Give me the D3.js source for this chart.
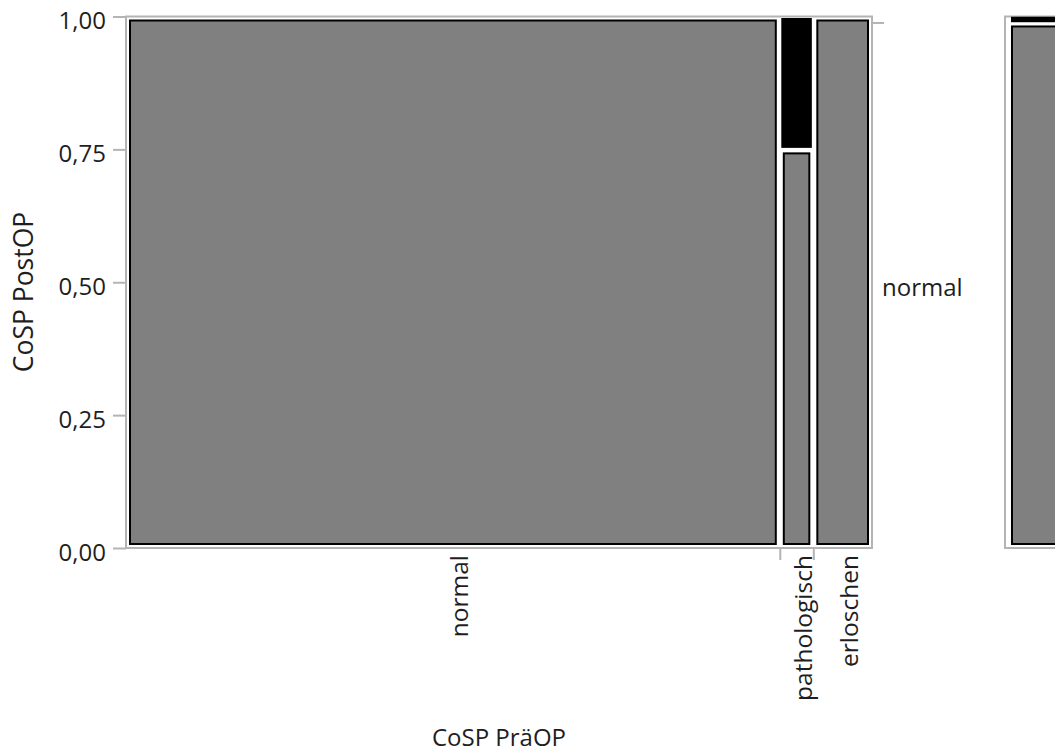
<!DOCTYPE html>
<html>
<head>
<meta charset="utf-8">
<script src="https://cdn.jsdelivr.net/npm/d3@7"></script>
<style>
  html, body { margin: 0; padding: 0; background: #fff; }
  svg { display: block; font-family: "Open Sans", sans-serif; }
</style>
</head>
<body>
<svg id="chart" width="1055" height="753"></svg>
<script>
// ---- data ----
const preLevels = ["normal", "pathologisch", "erloschen"];   // CoSP PräOP (x)
const postLevels = ["normal", "pathologisch"];                // CoSP PostOP (stacked, bottom -> top)
const countPostNormal = [78, 3, 7];        // per PräOP level
const countPostPatho  = [0, 1, 0];         // per PräOP level
const yTickValues = [0, 0.25, 0.5, 0.75, 1];
const yTickLabels = ["0,00", "0,25", "0,50", "0,75", "1,00"];
const xTitle = "CoSP PräOP";
const yTitle = "CoSP PostOP";

// ---- styles ----
const FONT = 24;
const TEXT = "#1e1e1e";
const FRAME = "#b4b4b4";
const levelFill = { "normal": "#808080", "pathologisch": "#000000" };
const levelInset = { "normal": 4, "pathologisch": 2.5 };

const svg = d3.select("#chart");

const colTotals = preLevels.map((_, i) => countPostNormal[i] + countPostPatho[i]);
const total = d3.sum(colTotals);
const colStart = d3.cumsum([0, ...colTotals]);

const x = d3.scaleLinear().domain([0, total]).range([126, 872]);
const y = d3.scaleLinear().domain([0, 1]).range([548, 16.5]);

// cells
const cells = [];
preLevels.forEach((p, i) => {
  const n = colTotals[i];
  const vals = [countPostNormal[i], countPostPatho[i]];
  let acc = 0;
  postLevels.forEach((lvl, j) => {
    const v = vals[j];
    if (v > 0) cells.push({ pre: p, lvl, x0: colStart[i], x1: colStart[i + 1], p0: acc / n, p1: (acc + v) / n });
    acc += v;
  });
});

// frame
svg.append("rect")
  .attr("x", x(0)).attr("y", y(1))
  .attr("width", x(total) - x(0)).attr("height", y(0) - y(1))
  .attr("fill", "none").attr("stroke", FRAME).attr("stroke-width", 2);

svg.append("g").selectAll("rect").data(cells).join("rect")
  .attr("x", d => x(d.x0) + levelInset[d.lvl])
  .attr("width", d => x(d.x1) - x(d.x0) - 2 * levelInset[d.lvl])
  .attr("y", d => y(d.p1) + levelInset[d.lvl])
  .attr("height", d => y(d.p0) - y(d.p1) - 2 * levelInset[d.lvl])
  .attr("fill", d => levelFill[d.lvl])
  .attr("stroke", "#000").attr("stroke-width", 2);

// y axis
const yAxis = svg.append("g").attr("transform", `translate(${x(0)},0)`)
  .call(d3.axisLeft(y).tickValues(yTickValues)
    .tickFormat((d, i) => yTickLabels[i]).tickSize(13).tickPadding(7));
yAxis.select(".domain").remove();
yAxis.selectAll(".tick line").attr("stroke", FRAME).attr("stroke-width", 2);
yAxis.selectAll(".tick text").attr("fill", TEXT).attr("font-size", FONT)
  .attr("font-family", "Open Sans").attr("dy", "0.52em");

// x axis boundary ticks
const xb = svg.append("g").attr("transform", `translate(0,${y(0)})`)
  .call(d3.axisBottom(x).tickValues(colStart.slice(1, -1)).tickFormat("").tickSize(12));
xb.select(".domain").remove();
xb.selectAll(".tick line").attr("stroke", FRAME).attr("stroke-width", 2);

// x category labels (rotated)
svg.append("g").selectAll("text").data(preLevels).join("text")
  .attr("transform", (d, i) => `translate(${(x(colStart[i]) + x(colStart[i + 1])) / 2 + 15},555) rotate(-90)`)
  .attr("text-anchor", "end")
  .attr("font-size", 24.5).attr("fill", TEXT)
  .text(d => d);

// right axis: overall marginal
const overallNormal = d3.sum(countPostNormal) / total;
const rTick = svg.append("g").attr("transform", `translate(${x(total)},0)`)
  .call(d3.axisRight(y).tickValues([overallNormal]).tickFormat("").tickSize(12));
rTick.select(".domain").remove();
rTick.selectAll(".tick line").attr("stroke", FRAME).attr("stroke-width", 2);
svg.append("text")
  .attr("x", x(total) + 10).attr("y", (y(0) + y(overallNormal)) / 2)
  .attr("dy", "0.45em")
  .attr("font-size", FONT).attr("fill", TEXT)
  .text(postLevels[0]);

// titles
svg.append("text").attr("x", (x(0) + x(total)) / 2).attr("y", 746)
  .attr("text-anchor", "middle").attr("font-size", FONT).attr("fill", TEXT).text(xTitle);
svg.append("text").attr("transform", `translate(33,292) rotate(-90)`)
  .attr("text-anchor", "middle").attr("font-size", 26.5).attr("fill", TEXT).text(yTitle);

// marginal panel (all data), partially visible at right edge
const xm = d3.scaleLinear().domain([0, 1]).range([1005, 1300]);
svg.append("rect")
  .attr("x", xm(0)).attr("y", y(1)).attr("width", xm(1) - xm(0)).attr("height", y(0) - y(1))
  .attr("fill", "none").attr("stroke", FRAME).attr("stroke-width", 2);
const margCells = [
  { lvl: postLevels[0], p0: 0, p1: overallNormal },
  { lvl: postLevels[1], p0: overallNormal, p1: 1 }
];
svg.append("g").selectAll("rect").data(margCells).join("rect")
  .attr("x", d => xm(0) + 3 + levelInset[d.lvl] + (d.lvl === "pathologisch" ? 1.5 : 0))
  .attr("width", d => xm(1) - xm(0) - 2 * levelInset[d.lvl])
  .attr("y", d => y(d.p1) + levelInset[d.lvl] * (d.lvl === "pathologisch" ? 0.5 : 1))
  .attr("height", d => Math.max(1, y(d.p0) - y(d.p1) - 2 * levelInset[d.lvl] * (d.lvl === "pathologisch" ? 0.5 : 1)))
  .attr("fill", d => levelFill[d.lvl])
  .attr("stroke", "#000").attr("stroke-width", 2);
</script>
</body>
</html>
